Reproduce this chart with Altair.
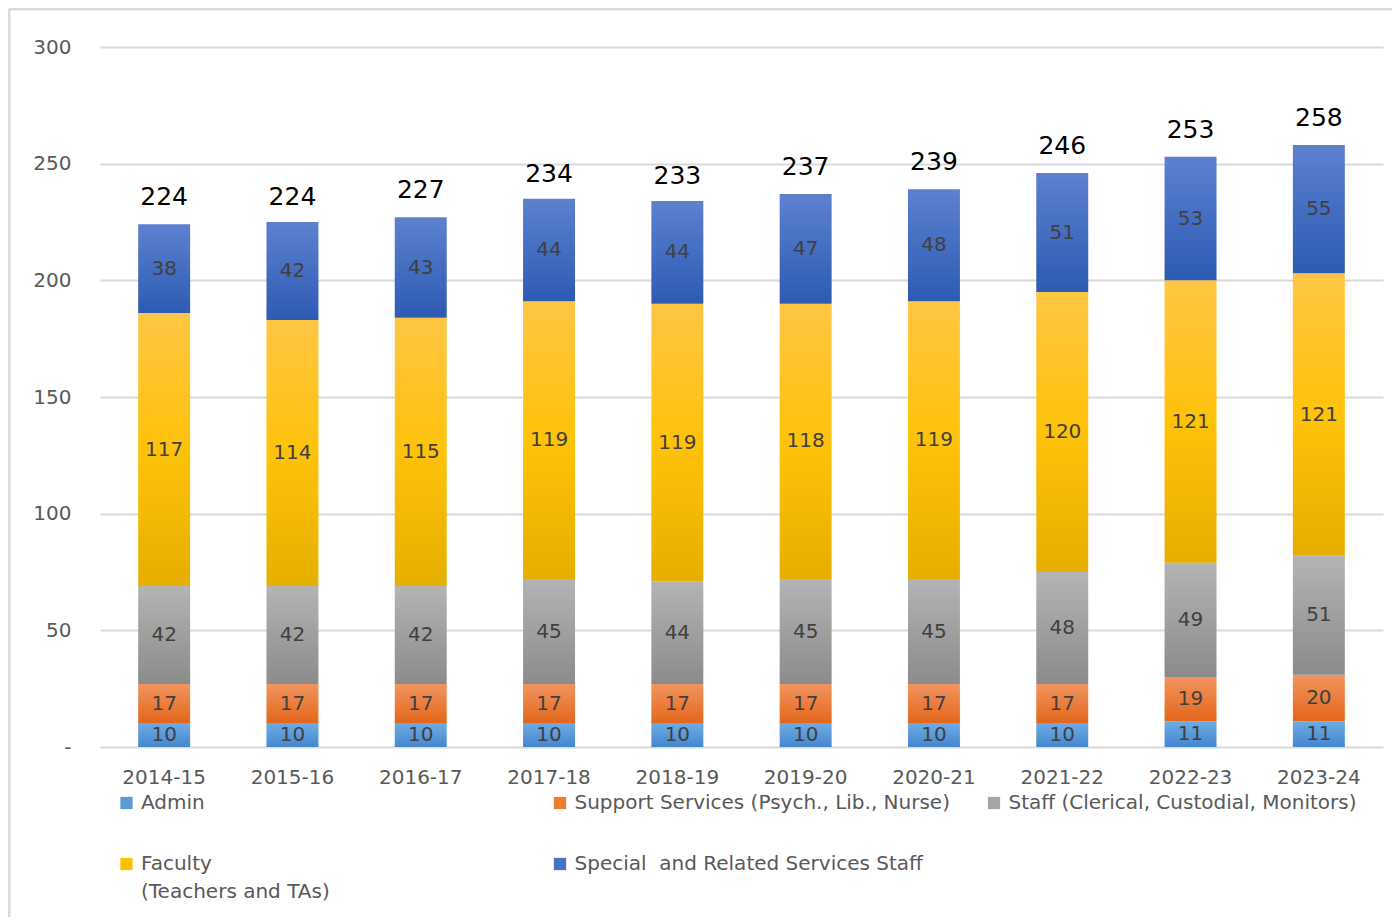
import altair as alt
import pandas as pd

years = ["2014-15", "2015-16", "2016-17", "2017-18", "2018-19",
         "2019-20", "2020-21", "2021-22", "2022-23", "2023-24"]
categories = ["Admin", "Support Services (Psych., Lib., Nurse)",
              "Staff (Clerical, Custodial, Monitors)", "Faculty",
              "Special\u00a0 and Related Services Staff"]
admin = [10, 10, 10, 10, 10, 10, 10, 10, 11, 11]
support = [17, 17, 17, 17, 17, 17, 17, 17, 19, 20]
staff = [42, 42, 42, 45, 44, 45, 45, 48, 49, 51]
faculty = [117, 114, 115, 119, 119, 118, 119, 120, 121, 121]
special = [38, 42, 43, 44, 44, 47, 48, 51, 53, 55]
totals = [224, 224, 227, 234, 233, 237, 239, 246, 253, 258]
y_ticks = [0, 50, 100, 150, 200, 250, 300]

series = [admin, support, staff, faculty, special]
rows = []
for ci, (cat, vals) in enumerate(zip(categories, series)):
    for yr, v in zip(years, vals):
        rows.append({"year": yr, "category": cat, "value": v, "order": ci})
df = pd.DataFrame(rows)
tot_df = pd.DataFrame({"year": years, "total": totals})

grad_stops = {
    categories[0]: ["#6DABE3", "#4487CF"],
    categories[1]: ["#F29560", "#E3661A"],
    categories[2]: ["#B4B4B4", "#8B8B8B"],
    categories[3]: ["#FFC644", "#FFC20A", "#E5AF00"],
    categories[4]: ["#5C81CF", "#2D5AB3"],
}
solid = {
    categories[0]: "#5B9BD5",
    categories[1]: "#ED7D31",
    categories[2]: "#A5A5A5",
    categories[3]: "#FFC000",
    categories[4]: "#4472C4",
}


def gradient(cols):
    n = len(cols)
    stops = [alt.GradientStop(offset=i / (n - 1), color=c) for i, c in enumerate(cols)]
    return alt.Gradient(gradient="linear", stops=stops, x1=0, y1=0, x2=0, y2=1)


W, H = 1283, 700
xenc = alt.X("year:N", sort=years, title=None,
             scale=alt.Scale(paddingInner=0.595, paddingOuter=0.2975),
             axis=alt.Axis(labelAngle=0, domain=False, ticks=False, labelPadding=20,
                           labelFontSize=20, labelColor="#595959",
                           labelFont="DejaVu Sans", grid=False))
yscale = alt.Scale(domain=[0, 300], nice=False)

base = alt.Chart(df).transform_stack(
    stack="value", as_=["y0", "y1"], groupby=["year"],
    sort=[alt.SortField("order", order="ascending")]
).transform_calculate(mid="(datum.y0 + datum.y1) / 2")

layers = []
axis_layer = alt.Chart(tot_df).mark_bar(opacity=0).encode(
    x=xenc,
    y=alt.Y("total:Q", scale=yscale, title=None,
            axis=alt.Axis(values=y_ticks, domain=False, ticks=False, labelPadding=29,
                          labelFontSize=20, labelColor="#595959", labelFont="DejaVu Sans",
                          gridColor="#D9D9D9", gridWidth=2,
                          labelExpr="datum.value == 0 ? '-' : datum.label")),
)
layers.append(axis_layer)

for cat in categories:
    layers.append(
        base.transform_filter(alt.datum.category == cat).mark_bar(
            color=gradient(grad_stops[cat])
        ).encode(x=xenc, y=alt.Y("y0:Q", scale=yscale), y2="y1:Q")
    )

seg_labels = base.mark_text(fontSize=20, font="DejaVu Sans", color="#404040",
                            baseline="middle").encode(
    x=xenc, y=alt.Y("mid:Q", scale=yscale), text="value:Q")
layers.append(seg_labels)

tot_labels = alt.Chart(tot_df).mark_text(fontSize=25, font="DejaVu Sans", color="#000000",
                                         baseline="middle", dy=-27).encode(
    x=xenc, y=alt.Y("total:Q", scale=yscale), text="total:Q")
layers.append(tot_labels)

# manual legend
dummy = pd.DataFrame({"a": [0]})
leg_items = [
    (categories[0], 26.5, 756, "Admin"),
    (categories[1], 460, 756, categories[1]),
    (categories[2], 894, 756, categories[2]),
    (categories[3], 26.5, 817, "Faculty"),
    (categories[4], 460, 817, categories[4]),
]
for cat, lx, ly, txt in leg_items:
    layers.append(alt.Chart(dummy).mark_square(size=150, color=solid[cat], opacity=1).encode(
        x=alt.value(lx), y=alt.value(ly)))
    layers.append(alt.Chart(dummy).mark_text(
        text=txt, fontSize=20, font="DejaVu Sans", color="#595959",
        align="left", baseline="middle").encode(x=alt.value(lx + 14.5), y=alt.value(ly)))
layers.append(alt.Chart(dummy).mark_text(
    text="(Teachers and TAs)", fontSize=20, font="DejaVu Sans", color="#595959",
    align="left", baseline="middle").encode(x=alt.value(41), y=alt.value(845)))

# chart frame (top and left border)
layers.append(alt.Chart(dummy).mark_rule(color="#D9D9D9", strokeWidth=3).encode(
    x=alt.value(-91), x2=alt.value(W + 20), y=alt.value(-38)))
layers.append(alt.Chart(dummy).mark_rule(color="#D9D9D9", strokeWidth=3).encode(
    x=alt.value(-91), y=alt.value(-38), y2=alt.value(H + 180)))

chart = alt.layer(*layers).properties(
    width=W, height=H,
    background="white",
    autosize=alt.AutoSizeParams(type="none"),
    padding={"left": 92, "top": 39, "right": 9, "bottom": 170},
).configure_view(strokeWidth=0, stroke="transparent")

chart.save("out.html", embed_options={"renderer": "svg", "actions": False})
